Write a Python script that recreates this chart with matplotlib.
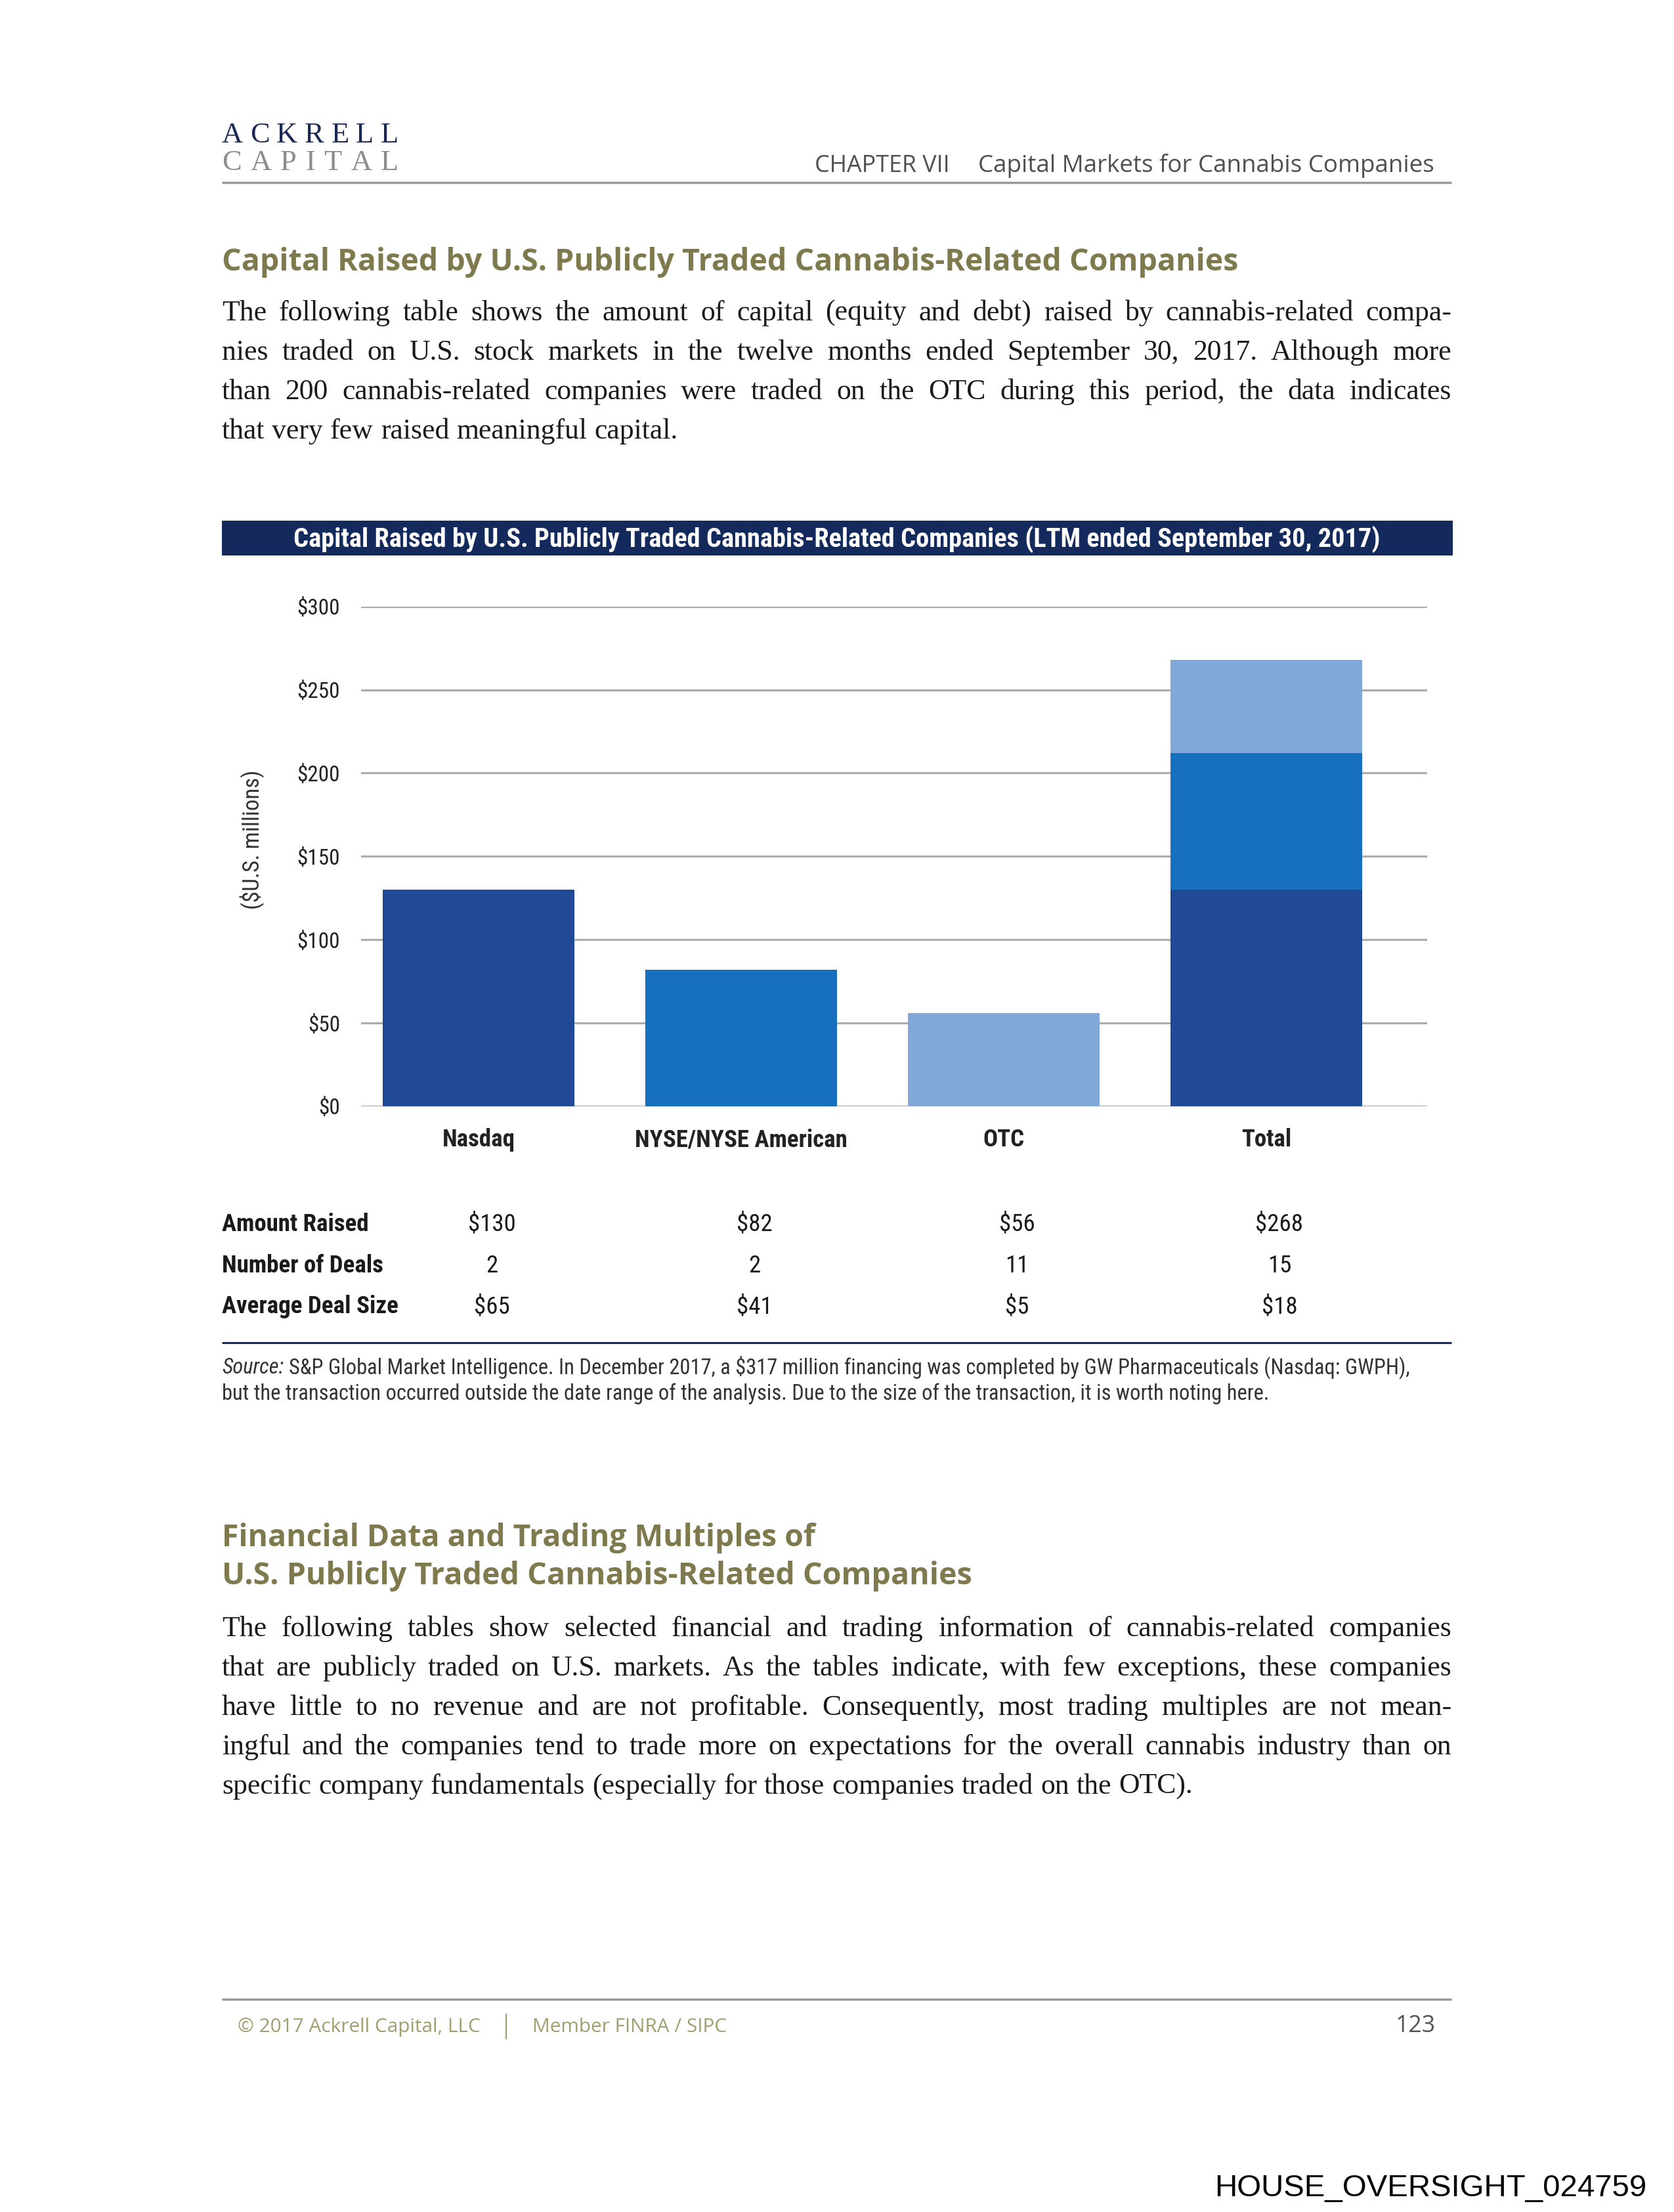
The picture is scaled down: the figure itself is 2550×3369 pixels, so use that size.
import matplotlib
matplotlib.use("Agg")
import matplotlib.pyplot as plt
import numpy as np
from matplotlib import font_manager
from matplotlib.lines import Line2D
from matplotlib.patches import Rectangle
from matplotlib.transforms import blended_transform_factory


W, H = 2550, 3369
DPI = 100

# Chart data ($ millions, LTM ended September 30, 2017)
categories = ["Nasdaq", "NYSE/NYSE American", "OTC", "Total"]
exchange_amounts = [130, 82, 56]  # the Total bar is stacked from these
amount_raised = [130, 82, 56, 268]
number_of_deals = [2, 2, 11, 15]
average_deal_size = [65, 41, 5, 18]
row_labels = ["Amount Raised", "Number of Deals", "Average Deal Size"]
y_ticks = [0, 50, 100, 150, 200, 250, 300]

bar_colors = ["#204A96", "#1670BD", "#80A8D8"]
navy = "#152A5C"
olive = "#7E7A4E"
footer_olive = "#A29E70"

# The chart uses a narrow sans (Arial Narrow); take one if the box has it.
installed = {f.name for f in font_manager.fontManager.ttflist}
narrow = next((name for name in ["Liberation Sans Narrow", "Arial Narrow",
                                  "Nimbus Sans Narrow", "Roboto Condensed"]
               if name in installed), None)
chart_font = [narrow, "Liberation Sans", "DejaVu Sans"] if narrow else ["Liberation Sans", "DejaVu Sans"]
boost = 1.0 if narrow else 1.1  # regular width font: a bit larger to get the height back

page_sans = ["Open Sans", "DejaVu Sans"]
page_serif = ["Liberation Serif", "DejaVu Serif"]

chart_title = ("Capital Raised by U.S. Publicly Traded Cannabis-Related Companies "
               "(LTM ended September 30, 2017)")
heading_1 = "Capital Raised by U.S. Publicly Traded Cannabis-Related Companies"
heading_2 = ["Financial Data and Trading Multiples of",
             "U.S. Publicly Traded Cannabis-Related Companies"]
paragraph_1 = [
    "The following table shows the amount of capital (equity and debt) raised by cannabis-related compa-",
    "nies traded on U.S. stock markets in the twelve months ended September 30, 2017. Although more",
    "than 200 cannabis-related companies were traded on the OTC during this period, the data indicates",
    "that very few raised meaningful capital.",
]
paragraph_2 = [
    "The following tables show selected financial and trading information of cannabis-related companies",
    "that are publicly traded on U.S. markets. As the tables indicate, with few exceptions, these companies",
    "have little to no revenue and are not profitable. Consequently, most trading multiples are not mean-",
    "ingful and the companies tend to trade more on expectations for the overall cannabis industry than on",
    "specific company fundamentals (especially for those companies traded on the OTC).",
]
source_line_1 = ("S&P Global Market Intelligence. In December 2017, a \\$317 million financing "
                 "was completed by GW Pharmaceuticals (Nasdaq: GWPH),")
source_line_2 = ("but the transaction occurred outside the date range of the analysis. "
                 "Due to the size of the transaction, it is worth noting here.")


fig = plt.figure(figsize=(W / DPI, H / DPI), dpi=DPI)
fig.patch.set_facecolor("white")
renderer = fig.canvas.get_renderer()


def fx(px):
    return px / W


def fy(py):
    return 1 - py / H


def text_width(t):
    return t.get_window_extent(renderer).width


# Draw a string and scale its font so that it spans x0..x1 (pixels).
def fit_text(s, x0, x1, y, size, ha="left", **kw):
    x = {"left": x0, "center": (x0 + x1) / 2, "right": x1}[ha]
    t = fig.text(fx(x), fy(y), s, fontsize=size, ha=ha, va="baseline", **kw)
    t.set_fontsize(size * (x1 - x0) / text_width(t))
    return t


# Place the pieces one by one; with justify=True they fill x0..x1 exactly.
def spread_words(words, x0, x1, y, size, justify=True, **kw):
    texts = [fig.text(0, fy(y), w, fontsize=size, va="baseline", **kw) for w in words]
    widths = [text_width(t) for t in texts]
    if justify and len(words) > 1:
        gap = (x1 - x0 - sum(widths)) / (len(words) - 1)
    else:
        gap = size * DPI / 72 * 0.25
    x = x0
    for t, w in zip(texts, widths):
        t.set_x(fx(x))
        x += w + gap


def hline(x0, x1, y, color, lw):
    fig.add_artist(Line2D([fx(x0), fx(x1)], [fy(y), fy(y)], color=color, lw=lw,
                          solid_capstyle="butt"))


# ---- page header ----
spread_words(list("ACKRELL"), 338, 607, 217, 32, family=page_serif, color="#1B2A55")
spread_words(list("CAPITAL"), 338, 607, 259, 32, family=page_serif, color="#8C8C8C")
fit_text("CHAPTER VII", 1241, 1447, 262, 26, family=page_sans, color="#505050")
fit_text("Capital Markets for Cannabis Companies", 1490, 2187, 262, 26,
         family=page_sans, color="#505050")
hline(338, 2211, 278, "#999999", 2.5)

# ---- first section text ----
fit_text(heading_1, 338, 1884, 412, 30, family=page_sans, fontweight="bold", color=olive)
for i, line in enumerate(paragraph_1):
    spread_words(line.split(" "), 338, 2211, 488 + i * 60, 31.5,
                 justify=(i < len(paragraph_1) - 1), family=page_serif, color="#1A1A1A")

# ---- chart title bar ----
fig.add_artist(Rectangle((fx(338), fy(846)), fx(2213) - fx(338), (846 - 793) / H,
                         transform=fig.transFigure, color=navy, lw=0))
fit_text(chart_title, 447, 2102, 833, 28, ha="center", family=chart_font,
         fontweight="bold", color="white")

# ---- bar chart ----
ax = fig.add_axes([fx(550), fy(1685), fx(2174) - fx(550), (1685 - 923.7) / H])
x = np.arange(len(categories))
bar_width = 0.73
for i, amount in enumerate(exchange_amounts):
    ax.bar(x[i], amount, width=bar_width, color=bar_colors[i], lw=0, zorder=2)
bottoms = np.concatenate([[0], np.cumsum(exchange_amounts)[:-1]])
ax.bar([x[3]] * len(exchange_amounts), exchange_amounts, bottom=bottoms,
       width=bar_width, color=bar_colors, lw=0, zorder=2)

ax.set_xlim(-0.4475, 3.6125)
ax.set_ylim(0, 300)
ax.set_yticks(y_ticks)
ax.set_yticklabels([f"\\${v}" for v in y_ticks])
ax.set_xticks(x)
ax.set_xticklabels(categories)
ax.grid(axis="y", color="#ADADAD", lw=2.3)
ax.set_axisbelow(True)
for spine in ax.spines.values():
    spine.set_visible(False)

# table label size decides the other chart text sizes
probe = fit_text(row_labels[0], 338, 562, 1875, 26, family=chart_font, fontweight="bold",
                 color="#1A1A1A")
table_size = probe.get_fontsize() * boost
probe.set_fontsize(table_size)

ax.tick_params(axis="both", length=0)
ax.tick_params(axis="y", pad=23, labelsize=table_size * 0.9, labelcolor="#222222")
ax.tick_params(axis="x", pad=24, labelsize=table_size, labelcolor="#222222")
for label in ax.get_yticklabels():
    label.set_fontfamily(chart_font)
for label in ax.get_xticklabels():
    label.set_fontfamily(chart_font)
    label.set_fontweight("bold")

ax.set_ylabel("(\\$U.S. millions)", fontsize=table_size * 0.95, family=chart_font,
              color="#333333", va="center")
ax.yaxis.set_label_coords((384 - 550) / (2174 - 550), (1685 - 1279) / (1685 - 923.7))

# ---- table under the chart ----
row_values = [
    [f"\\${v}" for v in amount_raised],
    [str(v) for v in number_of_deals],
    [f"\\${v}" for v in average_deal_size],
]
row_baselines = [1875, 1938, 2000]
table_tr = blended_transform_factory(ax.transData, fig.transFigure)
for r, (label, values) in enumerate(zip(row_labels, row_values)):
    if r > 0:
        fig.text(fx(338), fy(row_baselines[r]), label, fontsize=table_size,
                 family=chart_font, fontweight="bold", color="#1A1A1A", va="baseline")
    for i, v in enumerate(values):
        fig.text(x[i] + 0.05, fy(row_baselines[r]), v, transform=table_tr,
                 fontsize=table_size, family=chart_font, color="#1A1A1A",
                 ha="center", va="baseline")

hline(338, 2211, 2045, "#1B2A55", 2.2)

# ---- source note ----
src2 = fit_text(source_line_2, 338, 1932, 2132, 21, family=chart_font, color="#333333")
src_size = src2.get_fontsize()
src_label = fig.text(fx(338), fy(2092), "Source:", fontsize=src_size, family=chart_font,
                     style="italic", color="#333333", va="baseline")
label_w = text_width(src_label) + src_size * DPI / 72 * 0.25
fig.text(fx(338 + label_w), fy(2092), source_line_1, fontsize=src_size, family=chart_font,
         color="#333333", va="baseline")

# ---- second section text ----
fit_text(heading_2[0], 338, 1241, 2355, 30, family=page_sans, fontweight="bold", color=olive)
fit_text(heading_2[1], 338, 1480, 2413, 30, family=page_sans, fontweight="bold", color=olive)
for i, line in enumerate(paragraph_2):
    spread_words(line.split(" "), 338, 2211, 2492 + i * 60, 31.5,
                 justify=(i < len(paragraph_2) - 1), family=page_serif, color="#1A1A1A")

# ---- footer ----
hline(338, 2211, 3045, "#999999", 2.5)
fit_text("\u00a9 2017 Ackrell Capital, LLC", 362, 732, 3095, 20, family=page_sans,
         color=footer_olive)
fig.add_artist(Line2D([fx(771), fx(771)], [fy(3068), fy(3105)], color=footer_olive, lw=1.6))
fit_text("Member FINRA / SIPC", 811, 1108, 3095, 20, family=page_sans, color=footer_olive)
fit_text("123", 2126, 2187, 3095, 20, ha="right", family=page_sans, color="#555555")

fit_text("HOUSE_OVERSIGHT_024759", 1850, 2508, 3345, 33, family=["Liberation Sans", "DejaVu Sans"],
         color="black")

fig.savefig("out.png", dpi=DPI, facecolor="white")
